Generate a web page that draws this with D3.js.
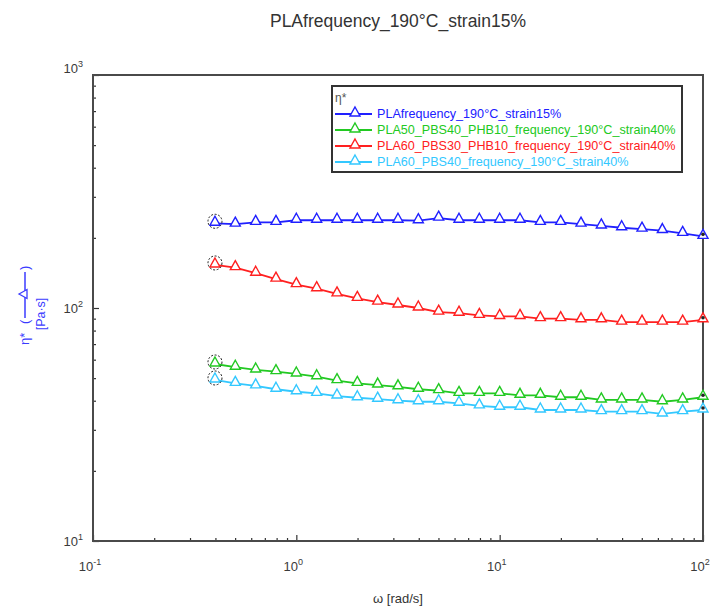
<!DOCTYPE html>
<html>
<head>
<meta charset="utf-8">
<script src="https://cdn.jsdelivr.net/npm/d3@7"></script>
<style>
  html, body { margin: 0; padding: 0; background: #fff; }
  svg { display: block; font-family: "Liberation Sans", Arial, sans-serif; }
</style>
</head>
<body>
<svg id="chart" width="716" height="610"></svg>
<script>
// Angular frequency sweep (rad/s)
const omega = [0.398, 0.501, 0.631, 0.794, 1.0, 1.259, 1.585, 1.995, 2.512, 3.162,
               3.981, 5.012, 6.310, 7.943, 10.0, 12.59, 15.85, 19.95, 25.12, 31.62,
               39.81, 50.12, 63.10, 79.43, 100.0];

// Complex viscosity η* (Pa·s) for each sample
const seriesNames = [
  "PLAfrequency_190°C_strain15%",
  "PLA50_PBS40_PHB10_frequency_190°C_strain40%",
  "PLA60_PBS30_PHB10_frequency_190°C_strain40%",
  "PLA60_PBS40_frequency_190°C_strain40%"
];
const etaPLA = [231, 229, 233, 233, 238, 238, 238, 238, 238, 238, 237, 243, 238, 238, 238,
                238, 233, 233, 229, 225, 221, 218, 215, 209, 203];
const etaPLA50 = [57.5, 55.7, 54.2, 53.3, 52.1, 50.7, 48.8, 47.5, 46.7, 45.9, 44.8, 44.2, 43.0,
                  43.0, 43.0, 42.2, 42.2, 41.4, 41.4, 40.3, 40.3, 40.3, 39.6, 40.3, 41.4];
const etaPLA60PHB = [153, 149, 141, 133, 126, 121, 115, 110, 106, 103, 100, 96, 95, 93, 92,
                     92, 90, 90, 89, 89, 87, 87, 87, 87, 89];
const etaPLA60 = [49.1, 47.5, 46.3, 44.8, 43.7, 43.0, 41.9, 41.2, 40.6, 40.0, 39.6, 39.6, 39.0,
                  38.0, 37.5, 37.5, 36.5, 36.5, 36.5, 35.9, 35.9, 35.9, 35.1, 35.9, 36.5];
const seriesColors = ["#2020ff", "#22c922", "#ff2020", "#33c8ff"];

// Axis tick labels (powers of ten)
const xMajor = [0.1, 1, 10, 100];
const xMajorExp = ["-1", "0", "1", "2"];
const yMajor = [10, 100, 1000];
const yMajorExp = ["1", "2", "3"];

const chartTitle = "PLAfrequency_190°C_strain15%";
const xTitle = "ω [rad/s]";

const series = [etaPLA, etaPLA50, etaPLA60PHB, etaPLA60].map((vals, i) => ({
  name: seriesNames[i],
  color: seriesColors[i],
  points: vals.map((v, j) => ({ x: omega[j], y: v }))
}));
// drawing order: cyan, red, green, blue on top
const drawOrder = [3, 2, 1, 0];

const svg = d3.select("#chart");
const plotLeft = 93, plotRight = 703, plotTop = 75, plotBottom = 541;

const x = d3.scaleLog().domain([0.1, 100]).range([plotLeft, plotRight]);
const y = d3.scaleLog().domain([10, 1000]).range([plotBottom, plotTop]);

const isMajor = v => Math.abs(Math.log10(v) - Math.round(Math.log10(v))) < 1e-9;

// Title
svg.append("text")
  .attr("x", (plotLeft + plotRight) / 2).attr("y", 27)
  .attr("text-anchor", "middle")
  .attr("font-size", 17.5).attr("fill", "#333")
  .text(chartTitle);

// Bottom axis (ticks point inward)
const gx = svg.append("g").attr("transform", `translate(0,${plotBottom})`)
  .call(d3.axisBottom(x).tickValues(x.ticks()).tickFormat("").tickSizeOuter(0));
gx.select(".domain").remove();
gx.selectAll(".tick line")
  .attr("y2", d => isMajor(d) ? -6 : -3)
  .attr("stroke", "#333").attr("stroke-width", 1.2);

// Left axis (ticks point inward)
const gy = svg.append("g").attr("transform", `translate(${plotLeft},0)`)
  .call(d3.axisLeft(y).tickValues(y.ticks()).tickFormat("").tickSizeOuter(0));
gy.select(".domain").remove();
gy.selectAll(".tick line")
  .attr("x2", d => isMajor(d) ? 6 : 3)
  .attr("stroke", "#333").attr("stroke-width", 1.2);

// Frame
svg.append("rect")
  .attr("x", plotLeft).attr("y", plotTop)
  .attr("width", plotRight - plotLeft).attr("height", plotBottom - plotTop)
  .attr("fill", "none").attr("stroke", "#4a4a4a").attr("stroke-width", 2);

// X tick labels with superscript exponents
xMajor.forEach((v, i) => {
  const t = svg.append("text")
    .attr("x", x(v) - 3).attr("y", 571)
    .attr("text-anchor", "middle")
    .attr("font-size", 13).attr("fill", "#3a3a3a");
  t.append("tspan").text("10");
  t.append("tspan").attr("font-size", 9).attr("dy", -6).text(xMajorExp[i]);
});

// Y tick labels
yMajor.forEach((v, i) => {
  const t = svg.append("text")
    .attr("x", plotLeft - 10).attr("y", y(v) + (i === 2 ? -2 : 5))
    .attr("text-anchor", "end")
    .attr("font-size", 13).attr("fill", "#3a3a3a");
  t.append("tspan").text("10");
  t.append("tspan").attr("font-size", 9).attr("dy", -6).text(yMajorExp[i]);
});

// X axis title
svg.append("text")
  .attr("x", (plotLeft + plotRight) / 2).attr("y", 603)
  .attr("text-anchor", "middle")
  .attr("font-size", 13).attr("fill", "#333")
  .text(xTitle);

// Y axis title: η* (—△—) and unit, rotated
const yTitleColor = "#3b3bff";
const yt = svg.append("g").attr("transform", "translate(24,305) rotate(-90)");
yt.append("text").attr("x", -40).attr("y", 5)
  .attr("font-size", 13).attr("fill", yTitleColor).text("η*");
yt.append("text").attr("x", -19).attr("y", 5)
  .attr("font-size", 13).attr("fill", yTitleColor).text("(");
yt.append("line").attr("x1", -13).attr("x2", 33).attr("y1", 1).attr("y2", 1)
  .attr("stroke", yTitleColor).attr("stroke-width", 1.5);
yt.append("path").attr("d", "M11,-5 L15.5,3 L6.5,3 Z")
  .attr("fill", "#fff").attr("stroke", yTitleColor).attr("stroke-width", 1.3);
yt.append("text").attr("x", 35).attr("y", 5)
  .attr("font-size", 13).attr("fill", yTitleColor).text(")");
svg.append("text")
  .attr("transform", "translate(45,314) rotate(-90)")
  .attr("text-anchor", "middle")
  .attr("font-size", 12.5).attr("fill", yTitleColor)
  .text("[Pa·s]");

// Triangle marker: apex above the point, base just below the line
const tri = "M0,-7 L5,2 L-5,2 Z";
const line = d3.line().x(d => x(d.x)).y(d => y(d.y));

drawOrder.forEach(i => {
  const s = series[i];
  const g = svg.append("g");
  g.append("path").datum(s.points)
    .attr("d", line).attr("fill", "none")
    .attr("stroke", s.color).attr("stroke-width", 1.8);
  g.selectAll("path.m").data(s.points).join("path")
    .attr("class", "m")
    .attr("d", tri)
    .attr("transform", d => `translate(${x(d.x)},${y(d.y)})`)
    .attr("fill", "#fff").attr("stroke", s.color).attr("stroke-width", 1.4);
  // selection ring on the first point
  const p0 = s.points[0];
  g.append("circle")
    .attr("cx", x(p0.x)).attr("cy", y(p0.y) - 2).attr("r", 7)
    .attr("fill", "none").attr("stroke", "#222")
    .attr("stroke-width", 1).attr("stroke-dasharray", "2,1.6");
  // cursor dot on the last point
  const pl = s.points[s.points.length - 1];
  g.append("circle")
    .attr("cx", x(pl.x)).attr("cy", y(pl.y) - 2).attr("r", 1.8)
    .attr("fill", "#222");
});

// Legend
const lg = svg.append("g");
lg.append("rect")
  .attr("x", 332).attr("y", 86).attr("width", 350).attr("height", 86)
  .attr("fill", "#fff").attr("stroke", "#333").attr("stroke-width", 2);
lg.append("text").attr("x", 335).attr("y", 102)
  .attr("font-size", 12).attr("fill", "#555").text("η*");
series.forEach((s, i) => {
  const ry = 114 + i * 16;
  lg.append("line").attr("x1", 335).attr("x2", 372).attr("y1", ry).attr("y2", ry)
    .attr("stroke", s.color).attr("stroke-width", 1.8);
  lg.append("path").attr("d", tri)
    .attr("transform", `translate(355,${ry})`)
    .attr("fill", "#fff").attr("stroke", s.color).attr("stroke-width", 1.4);
  lg.append("text").attr("x", 377).attr("y", ry + 4)
    .attr("font-size", 12.6).attr("fill", s.color).text(s.name);
});
</script>
</body>
</html>
